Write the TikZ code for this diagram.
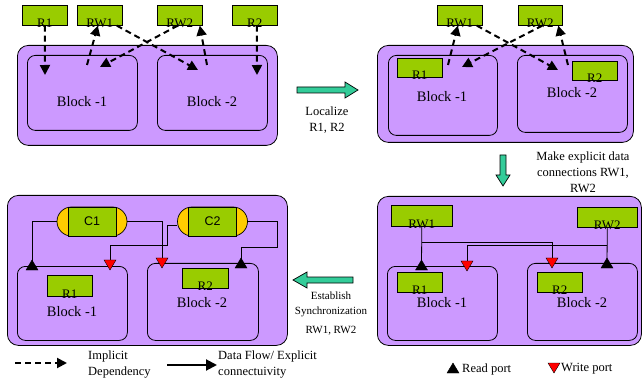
\documentclass[tikz,border=0pt]{standalone}
\usepackage{fontspec}
\setmainfont{Liberation Serif}
\newfontfamily\csans{Liberation Sans}
\usetikzlibrary{arrows.meta,shapes.misc}
\definecolor{purp}{RGB}{204,153,255}
\definecolor{grn}{RGB}{153,204,0}
\definecolor{orng}{RGB}{255,204,0}
\definecolor{mint}{RGB}{51,204,153}
\newcommand\rdport[1]{\filldraw[black,line width=0.4pt] (#1) ++(-6,5) -- ++(12,0) -- ++(-6,-10) -- cycle;}
\newcommand\wrport[1]{\filldraw[fill=red,draw=black,line width=0.4pt] (#1) ++(-6,-5) -- ++(12,0) -- ++(-6,10) -- cycle;}
\newcommand\gbx[6]{\node[gbox,minimum width=#4pt,minimum height=#5pt] (#1) at (#2,#3) {};
  \node[lbl,anchor=base] (#1t) at ([yshift=-1.5pt]#1.south) {#6};}
\begin{document}
\begin{tikzpicture}[x=1pt,y=-1pt,
 outer/.style={draw,fill=purp,rounded corners=11pt,line width=0.8pt,inner sep=0,anchor=north west},
 blk/.style={draw,rounded corners=8pt,line width=0.8pt,inner sep=0,anchor=north west},
 gbox/.style={draw,fill=grn,inner sep=0,anchor=north west,line width=0.6pt},
 lbl/.style={font=\fontsize{13}{15}\selectfont,inner sep=0},
 blbl/.style={font=\fontsize{14.5}{17}\selectfont,inner sep=0},
 txt/.style={font=\fontsize{12.5}{16}\selectfont,align=center,inner sep=0},
 dep/.style={line width=2pt,dash pattern=on 6pt off 4pt,-{Triangle[length=10pt,width=10pt]}},
 conn/.style={line width=0.8pt},
 fat/.style={draw,fill=mint,line width=0.7pt},
 caps/.style={rounded rectangle,draw,fill=orng,minimum width=70pt,minimum height=29pt,inner sep=0,line width=0.7pt},
 capg/.style={draw,fill=grn,minimum width=48pt,minimum height=29pt,inner sep=0,line width=0.7pt,font=\csans\fontsize{12.5}{14}\selectfont}]
\useasboundingbox (0,0) rectangle (642,387);

% ---------- Panel 1 (top left) ----------
\node[outer,minimum width=260pt,minimum height=100pt] (o1) at (17,45) {};
\node[blk,minimum width=110pt,minimum height=75pt] (b1a) at (27,55) {};
\node[blk,minimum width=110pt,minimum height=75pt] (b1b) at (157,55) {};
\node[blbl] (b1at) at (82,102) {Block -1};
\node[blbl] (b1bt) at (212,102) {Block -2};
\gbx{r1a}{22}{5}{45}{20}{R1}
\gbx{rw1a}{77}{5}{45}{20}{RW1}
\gbx{rw2a}{157}{5}{45}{20}{RW2}
\gbx{r2a}{232}{5}{45}{20}{R2}
\coordinate (e11) at (45,75);
\coordinate (s12) at (87,65);
\coordinate (e13) at (198,70);
\coordinate (e14) at (100,67);
\coordinate (s15) at (207,65);
\coordinate (e16) at (257,75);
\draw[dep] (r1a.south) -- (e11);
\draw[dep] (s12) -- ([xshift=-2pt]rw1a.south);
\draw[dep] ([xshift=17pt]rw1a.south) -- (e13);
\draw[dep] ([xshift=-2pt]rw2a.south) -- (e14);
\draw[dep] (s15) -- ([xshift=20pt]rw2a.south);
\draw[dep] ([xshift=2pt]r2a.south) -- (e16);

% Localize arrow
\draw[fat] (297,87) -- (345,87) -- (345,82) -- (358,90) -- (345,98) -- (345,93) -- (297,93) -- cycle;
\node[txt] (loc) at (327,120) {Localize\\R1, R2};

% ---------- Panel 2 (top right) ----------
\node[outer,minimum width=256pt,minimum height=97pt] (o2) at (377,45) {};
\node[blk,minimum width=109pt,minimum height=80pt] (b2a) at (388,55) {};
\node[blk,minimum width=110pt,minimum height=77pt] (b2b) at (517,55) {};
\gbx{r1b}{397}{58}{45}{19}{R1}
\gbx{r2b}{572}{61}{45}{19}{R2}
\node[blbl] (b2at) at (442,97) {Block -1};
\node[blbl] (b2bt) at (572,93) {Block -2};
\gbx{rw1b}{437}{5}{45}{20}{RW1}
\gbx{rw2b}{518}{5}{44}{20}{RW2}
\coordinate (s21) at (448,65);
\coordinate (e22) at (558,70);
\coordinate (e23) at (462,67);
\coordinate (s24) at (568,65);
\draw[dep] (s21) -- ([xshift=-2pt]rw1b.south);
\draw[dep] ([xshift=17pt]rw1b.south) -- (e22);
\draw[dep] ([xshift=2pt]rw2b.south) -- (e23);
\draw[dep] (s24) -- ([xshift=18pt]rw2b.south);

% down arrow
\draw[fat] (500,155) -- (506,155) -- (506,175) -- (510,175) -- (503,186) -- (496,175) -- (500,175) -- cycle;
\node[txt] (mk) at (583,172) {Make explicit data\\connections RW1,\\RW2};

% ---------- Panel 3 (bottom right) ----------
\node[outer,minimum width=264pt,minimum height=149pt] (o3) at (377,196) {};
\node[blk,minimum width=110pt,minimum height=74pt] (b3a) at (387,266) {};
\node[blk,minimum width=110pt,minimum height=77pt] (b3b) at (527,263) {};
\gbx{rw1c}{391}{205}{61}{21}{RW1}
\gbx{rw2c}{577}{207}{60}{20}{RW2}
\gbx{r1c}{397}{272}{45}{20}{R1}
\gbx{r2c}{537}{272}{45}{20}{R2}
\node[blbl] (b3at) at (442,303) {Block -1};
\node[blbl] (b3bt) at (582,303) {Block -2};
\coordinate (p3r1) at (421.5,265);
\coordinate (p3w1) at (467,266);
\coordinate (p3w2) at (552,263);
\coordinate (p3r2) at (607,263);
\coordinate (j31) at (421.5,242);
\coordinate (j32) at (607,245);
\draw[conn] (rw1c.south) -- (p3r1);
\draw[conn] (j31) -| (p3w2);
\draw[conn] (rw2c.south) -- (p3r2);
\draw[conn] (j32) -| (p3w1);
\rdport{p3r1}
\wrport{p3w1}
\wrport{p3w2}
\rdport{p3r2}

% left arrow
\draw[fat] (353,277) -- (307,277) -- (307,272) -- (293,280) -- (307,288) -- (307,283) -- (353,283) -- cycle;
\node[font=\fontsize{11}{15}\selectfont,align=center,inner sep=0] (est) at (331,314) {Establish\\Synchronization\\[4pt]RW1, RW2};

% ---------- Panel 4 (bottom left) ----------
\node[outer,minimum width=280pt,minimum height=150pt] (o4) at (7,195) {};
\node[blk,minimum width=110pt,minimum height=74pt] (b4a) at (17,266) {};
\node[blk,minimum width=111pt,minimum height=77pt] (b4b) at (147,263) {};
\gbx{r1d}{47}{275}{45}{21}{R1}
\gbx{r2d}{182}{268}{46}{20}{R2}
\node[blbl] (b4at) at (72,312) {Block -1};
\node[blbl] (b4bt) at (202,303) {Block -2};
\node[caps] (c1) at (92,221.5) {};
\node[capg] (c1g) at (92,221.5) {C1};
\node[caps] (c2) at (212.5,221.5) {};
\node[capg] (c2g) at (212.5,221.5) {C2};
\coordinate (p4r1) at (32,265);
\coordinate (p4w1) at (110,265);
\coordinate (p4w2) at (162,263);
\coordinate (p4r2) at (241,263);
\coordinate (j41) at (167,245);
\coordinate (j42) at (277,247);
\draw[conn] (c1.west) -| (p4r1);
\draw[conn] (c1.east) -| (p4w2);
\draw[conn] ([yshift=-3.5pt]c2.west) -| (j41) -| (p4w1);
\draw[conn] (c2.east) -| (j42) -| (p4r2);
\rdport{p4r1}
\wrport{p4w1}
\wrport{p4w2}
\rdport{p4r2}

% ---------- Legend ----------
\coordinate (l1a) at (15,363);
\coordinate (l1b) at (67,363);
\draw[dep] (l1a) -- (l1b);
\node[txt,align=left,anchor=west] (l1t) at (88,365) {Implicit\\Dependency};
\coordinate (l2a) at (167,365);
\coordinate (l2b) at (217,365);
\draw[line width=2pt,-{Triangle[length=11pt,width=11pt]}] (l2a) -- (l2b);
\node[txt,align=left,anchor=west] (l2t) at (218,365) {Data Flow/ Explicit\\connectuivity};
\coordinate (lr) at (453,368);
\rdport{lr}
\node[txt,anchor=west] (lrt) at (462,369) {Read port};
\coordinate (lw) at (554,368);
\wrport{lw}
\node[txt,anchor=west] (lwt) at (561,369) {Write port};
\end{tikzpicture}
\end{document}
